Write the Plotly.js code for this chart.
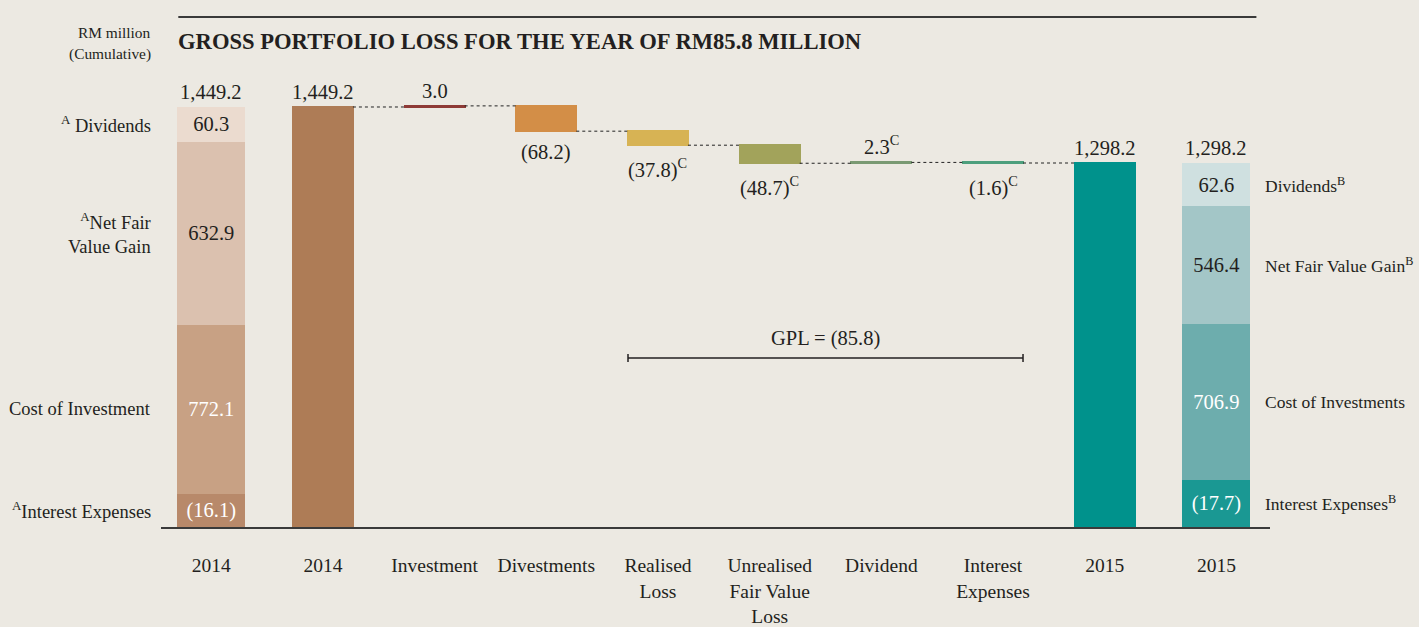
<!DOCTYPE html>
<html>
<head>
<meta charset="utf-8">
<script src="https://cdn.plot.ly/plotly-3.0.1.min.js"></script>
<style>
  html, body { margin: 0; padding: 0; background: #ece9e2; }
  #chart { width: 1419px; height: 627px; }
</style>
</head>
<body>
<div id="chart"></div>
<script>
// values (RM million)
const tickText = ['2014', '2014', 'Investment', 'Divestments', 'Realised<br>Loss',
  'Unrealised<br>Fair Value<br>Loss', 'Dividend', 'Interest<br>Expenses', '2015', '2015'];
const opening2014 = 1449.2;
const closing2015 = 1298.2;
const movements = [3.0, -68.2, -37.8, -48.7, 2.3, -1.6];
const movementNotes = ['', '', 'C', 'C', 'C', 'C'];

// breakdown of the year-end bars, bottom to top
const partLabels2014 = ['<sup>A</sup>Interest Expenses', 'Cost of Investment',
  '<sup>A</sup>Net Fair<br>Value Gain', '<sup>A</sup> Dividends'];
const parts2014 = [-16.1, 772.1, 632.9, 60.3];
const partShare2014 = [7.9, 40.2, 43.6, 8.3];   // % of bar height as drawn (not to scale)
const partLabels2015 = ['Interest Expenses<sup>B</sup>', 'Cost of Investments',
  'Net Fair Value Gain<sup>B</sup>', 'Dividends<sup>B</sup>'];
const parts2015 = [-17.7, 706.9, 546.4, 62.6];
const partShare2015 = [13.0, 42.8, 32.3, 11.9];

const colors2014 = ['#b8896a', '#c8a184', '#dbc1af', '#ebdbcf'];
const colors2015 = ['#1a9893', '#6dadad', '#a3c6c7', '#cfe0e0'];
const partText2014 = ['#ffffff', '#ffffff', '#231f20', '#231f20'];
const partText2015 = ['#ffffff', '#ffffff', '#231f20', '#231f20'];
const barColors = ['#ae7c56', '#8e3a36', '#d38e47', '#d7b354', '#a2a35b', '#7a9a73', '#4d9f7d', '#00928c'];

const FONT = 'Liberation Serif, Times New Roman, serif';
const INK = '#231f20';
const FS = 20.5;

// plot geometry
const W = 1419, H = 627;
const L = 160.7, R = 149.4, T = 60, B = 100;
const pw = W - L - R, ph = H - T - B;
const px = x => (x - L) / pw;
const py = y => (H - B - y) / ph;
const yRange = [316.8, 1575.9];
const yFrac = v => (v - yRange[0]) / (yRange[1] - yRange[0]);

const fmt = v => {
  const s = Math.abs(v).toLocaleString('en-US', { minimumFractionDigits: 1, maximumFractionDigits: 1 });
  return v < 0 ? '(' + s + ')' : s;
};

// waterfall bars
const wx = [1], wBase = [0], wY = [opening2014];
let level = opening2014;
const ends = [opening2014];
movements.forEach((m, i) => {
  wx.push(i + 2); wBase.push(level); wY.push(m);
  level += m;
  ends.push(level);
});
wx.push(8); wBase.push(0); wY.push(closing2015);

const traces = [{
  type: 'bar', x: wx, y: wY, base: wBase, width: 0.537,
  marker: { color: barColors, line: { color: barColors, width: 2 } },
  hoverinfo: 'skip'
}];

parts2014.forEach((v, i) => {
  traces.push({
    type: 'bar', x: [0], y: [partShare2014[i]], yaxis: 'y2', width: 0.61,
    marker: { color: colors2014[i] }, text: [fmt(v)], textposition: 'inside',
    insidetextanchor: 'middle', constraintext: 'none', textangle: 0,
    textfont: { family: FONT, size: FS, color: partText2014[i] }, hoverinfo: 'skip'
  });
});
parts2015.forEach((v, i) => {
  traces.push({
    type: 'bar', x: [9], y: [partShare2015[i]], yaxis: 'y3', width: 0.61,
    marker: { color: colors2015[i] }, text: [fmt(v)], textposition: 'inside',
    insidetextanchor: 'middle', constraintext: 'none', textangle: 0,
    textfont: { family: FONT, size: FS, color: partText2015[i] }, hoverinfo: 'skip'
  });
});

const annotations = [];
const shapes = [];
const txt = (o) => annotations.push(Object.assign({
  showarrow: false, font: { family: FONT, size: FS, color: INK }
}, o));

// totals above bars
txt({ x: 0, y: 100, yref: 'y2', text: fmt(opening2014), yanchor: 'bottom', yshift: 2 });
txt({ x: 1, y: opening2014, text: fmt(opening2014), yanchor: 'bottom', yshift: 2 });
txt({ x: 8, y: closing2015, text: fmt(closing2015), yanchor: 'bottom', yshift: 2 });
txt({ x: 9, y: 100, yref: 'y3', text: fmt(closing2015), yanchor: 'bottom', yshift: 2 });

// movement labels
movements.forEach((m, i) => {
  const note = movementNotes[i] ? '<sup>' + movementNotes[i] + '</sup>' : '';
  const up = m >= 0;
  txt({
    x: i + 2, y: ends[i + 1], text: fmt(m) + note,
    yanchor: up ? 'bottom' : 'top', yshift: up ? 2 : -8
  });
});

// dotted connectors
for (let i = 0; i < ends.length; i++) {
  shapes.push({
    type: 'line', xref: 'x', yref: 'y', x0: i + 1 + 0.2685, x1: i + 2 - 0.2685,
    y0: ends[i], y1: ends[i], line: { color: '#222', width: 1, dash: 'dot' }
  });
}

// breakdown side labels
let acc = 0;
partShare2014.forEach((s, i) => {
  txt({ x: px(153), xref: 'paper', xanchor: 'right', align: 'right', y: acc + s / 2, yref: 'y2',
    text: partLabels2014[i], font: { family: FONT, size: 18.5, color: INK } });
  acc += s;
});
acc = 0;
partShare2015.forEach((s, i) => {
  txt({ x: px(1263), xref: 'paper', xanchor: 'left', align: 'left', y: acc + s / 2, yref: 'y3',
    text: partLabels2015[i], font: { family: FONT, size: 17.5, color: INK } });
  acc += s;
});

// GPL bracket
const gpl = movements.slice(2).reduce((a, b) => a + b, 0);
const gx0 = 4 - 0.2685, gx1 = 7 + 0.2685;
txt({ x: (gx0 + gx1) / 2, y: py(338), yref: 'paper', text: 'GPL = ' + fmt(gpl) });
shapes.push({ type: 'line', xref: 'x', yref: 'paper', x0: gx0, x1: gx1, y0: py(358), y1: py(358),
  line: { color: INK, width: 1.5 } });
[gx0, gx1].forEach(gx => shapes.push({
  type: 'line', xref: 'x', yref: 'paper', ysizemode: 'pixel', yanchor: py(358),
  x0: gx, x1: gx, y0: -4, y1: 4, line: { color: INK, width: 1.5 }
}));

// header
shapes.push({ type: 'line', xref: 'paper', yref: 'paper', x0: px(178), x1: px(1256),
  y0: py(17), y1: py(17), line: { color: '#3a3a3a', width: 2 } });
txt({ x: px(153), xref: 'paper', xanchor: 'right', y: py(22), yref: 'paper', text: 'RM million',
  font: { family: FONT, size: 15.4, color: INK } });
txt({ x: px(153), xref: 'paper', xanchor: 'right', y: py(43), yref: 'paper', text: '(Cumulative)',
  font: { family: FONT, size: 15.4, color: INK } });

const layout = {
  width: W, height: H,
  margin: { l: L, r: R, t: T, b: B },
  paper_bgcolor: '#ece9e2', plot_bgcolor: 'rgba(0,0,0,0)',
  showlegend: false, barmode: 'stack',
  title: {
    text: '<b>GROSS PORTFOLIO LOSS FOR THE YEAR OF RM85.8 MILLION</b>',
    font: { family: FONT, size: 22.6, color: INK },
    xref: 'container', x: 178 / W, xanchor: 'left',
    yref: 'container', y: 1 - 41 / H, yanchor: 'middle'
  },
  xaxis: {
    range: [-0.45, 9.48], tickvals: [0, 1, 2, 3, 4, 5, 6, 7, 8, 9], ticktext: tickText,
    showgrid: false, zeroline: false, showline: true, linecolor: '#3a3a3a', linewidth: 2,
    ticks: '', ticklabelstandoff: 20, tickfont: { family: FONT, size: 19.5, color: INK },
    fixedrange: true
  },
  yaxis: { range: yRange, visible: false, fixedrange: true },
  yaxis2: { range: [0, 100], domain: [0, yFrac(opening2014)], anchor: 'x', visible: false, fixedrange: true },
  yaxis3: { range: [0, 100], domain: [0, yFrac(closing2015)], anchor: 'x', visible: false, fixedrange: true },
  annotations: annotations,
  shapes: shapes
};

Plotly.newPlot('chart', traces, layout, { displayModeBar: false, staticPlot: true });
</script>
</body>
</html>
